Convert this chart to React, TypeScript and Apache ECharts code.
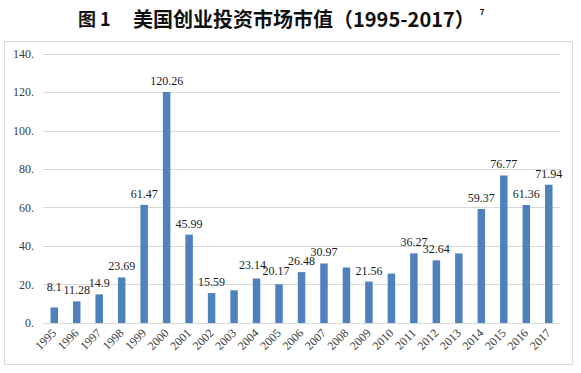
import React, { useEffect, useRef } from "react";
import * as echarts from "echarts";

const years = ["1995","1996","1997","1998","1999","2000","2001","2002","2003","2004","2005","2006","2007","2008","2009","2010","2011","2012","2013","2014","2015","2016","2017"];
const values = [8.1, 11.28, 14.9, 23.69, 61.47, 120.26, 45.99, 15.59, 17.0, 23.14, 20.17, 26.48, 30.97, 28.9, 21.56, 25.7, 36.27, 32.64, 36.2, 59.37, 76.77, 61.36, 71.94];
const labelled = [true, true, true, true, true, true, true, true, false, true, true, true, true, false, true, false, true, true, false, true, true, true, true];
const yTickLabels = ["0.", "20.", "40.", "60.", "80.", "100.", "120.", "140."];
const titleFigure = "图 1";
const titleText = "美国创业投资市场市值（1995-2017）";
const titleNote = "7";

const labelOffsets: Record<string, number[]> = { "1995": [0, -9], "2004": [-4, -3], "2005": [-3, -2] };

export default function App() {
  const ref = useRef<HTMLDivElement>(null);
  useEffect(() => {
    if (!ref.current) return;
    const chart = echarts.init(ref.current, null, { renderer: "svg" });
    const serif = "Liberation Serif";
    chart.setOption({
      animation: false,
      backgroundColor: "#ffffff",
      grid: { left: 43, right: 21, top: 54, bottom: 50, containLabel: false },
      graphic: [
        {
          type: "rect",
          shape: { x: 4.5, y: 41.5, width: 568, height: 323 },
          style: { fill: "none", stroke: "#d9d9d9", lineWidth: 1 },
          silent: true,
        },
        {
          type: "text",
          x: 78,
          y: 18,
          style: {
            text: titleFigure,
            fontFamily: "Noto Sans CJK SC",
            fontWeight: "bold",
            fontSize: 18,
            fill: "#111",
            align: "left",
            verticalAlign: "middle",
          },
        },
        {
          type: "text",
          x: 133,
          y: 18,
          style: {
            text: titleText,
            fontFamily: "Noto Sans CJK SC",
            fontWeight: "bold",
            fontSize: 20,
            fill: "#111",
            align: "left",
            verticalAlign: "middle",
          },
        },
        {
          type: "text",
          x: 482,
          y: 11,
          style: {
            text: titleNote,
            fontFamily: "Noto Sans CJK SC",
            fontWeight: "bold",
            fontSize: 8,
            fill: "#111",
            align: "center",
            verticalAlign: "middle",
          },
        },
      ],
      xAxis: {
        type: "category",
        data: years,
        axisLine: { show: true, lineStyle: { color: "#d9d9d9" } },
        axisTick: { show: false },
        axisLabel: {
          rotate: 45,
          interval: 0,
          margin: 8,
          fontFamily: serif,
          fontSize: 12,
          color: "#404040",
        },
      },
      yAxis: {
        type: "value",
        min: 0,
        max: 140,
        interval: 20,
        axisLine: { show: false },
        axisTick: { show: false },
        splitLine: { lineStyle: { color: "#d9d9d9" } },
        axisLabel: {
          margin: 9,
          fontFamily: serif,
          fontSize: 12,
          color: "#404040",
          formatter: (v: number) => yTickLabels[Math.round(v / 20)] ?? "",
        },
      },
      series: [
        {
          type: "bar",
          barWidth: 7.5,
          itemStyle: { color: "#4f81bd" },
          data: values.map((v, i) => ({
            value: v,
            label: {
              show: labelled[i],
              offset: labelOffsets[years[i]] ?? [0, 0],
            },
          })),
          label: {
            show: true,
            position: "top",
            distance: 5,
            fontFamily: serif,
            fontSize: 12,
            color: "#1a1a1a",
            formatter: (p: any) => String(p.value),
          },
        },
      ],
    });
    return () => chart.dispose();
  }, []);
  return <div ref={ref} style={{ position: "fixed", left: 0, top: 0, width: 581, height: 373 }} />;
}
